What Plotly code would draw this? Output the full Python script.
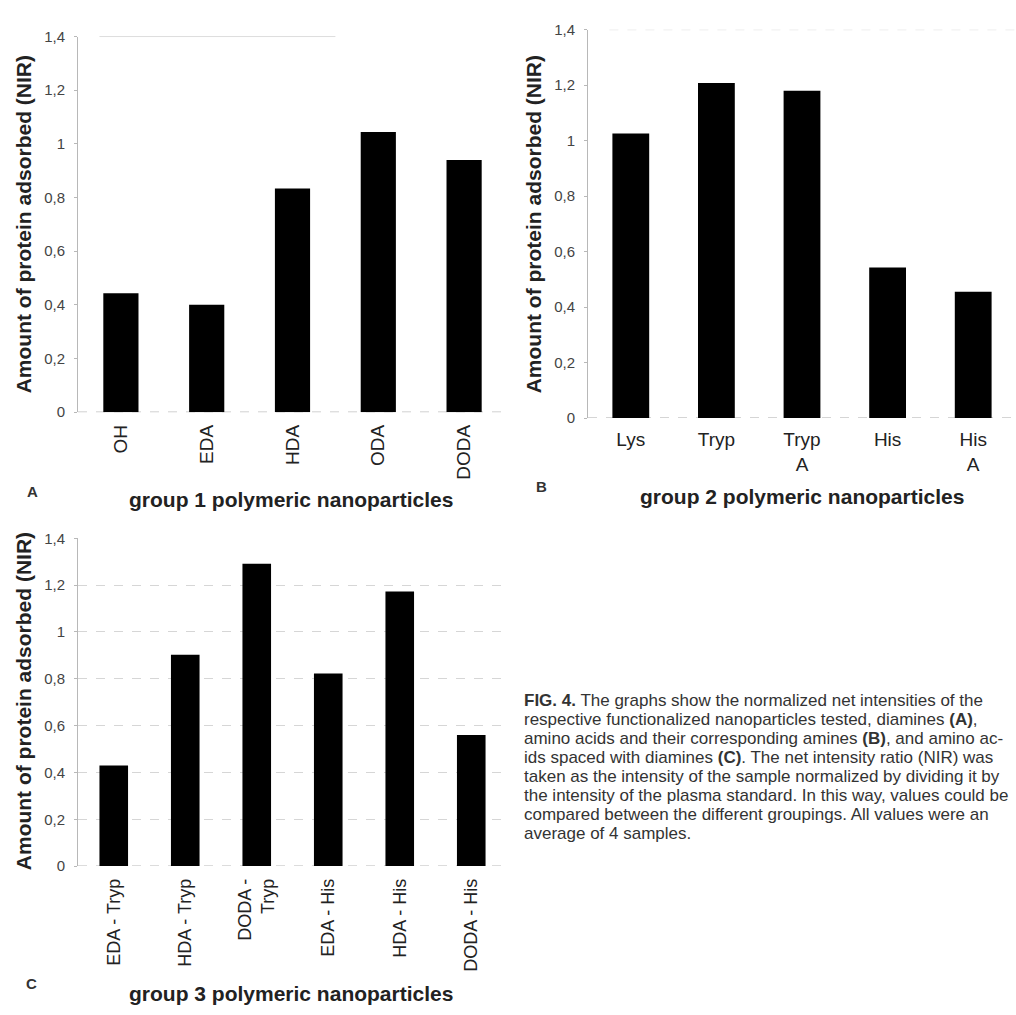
import plotly.graph_objects as go

# ---------------- data ----------------
cats_a = ["OH", "EDA", "HDA", "ODA", "DODA"]
vals_a = [0.443, 0.400, 0.834, 1.044, 0.940]

cats_b = ["Lys", "Tryp", "Tryp<br>A", "His", "His<br>A"]
vals_b = [1.026, 1.208, 1.180, 0.543, 0.455]

cats_c = ["EDA - Tryp", "HDA - Tryp", "DODA -<br>Tryp", "EDA - His", "HDA - His", "DODA - His"]
vals_c = [0.430, 0.903, 1.291, 0.822, 1.173, 0.560]

y_ticks = [0, 0.2, 0.4, 0.6, 0.8, 1.0, 1.2, 1.4]

y_title = "Amount of protein adsorbed (NIR)"
group_titles = ["group 1 polymeric nanoparticles",
                "group 2 polymeric nanoparticles",
                "group 3 polymeric nanoparticles"]
panel_letters = ["A", "B", "C"]

caption_lines = [
    "<b>FIG. 4.</b> The graphs show the normalized net intensities of the",
    "respective functionalized nanoparticles tested, diamines <b>(A)</b>,",
    "amino acids and their corresponding amines <b>(B)</b>, and amino ac-",
    "ids spaced with diamines <b>(C)</b>. The net intensity ratio (NIR) was",
    "taken as the intensity of the sample normalized by dividing it by",
    "the intensity of the plasma standard. In this way, values could be",
    "compared between the different groupings. All values were an",
    "average of 4 samples.",
]

# ---------------- layout helpers ----------------
W, H = 1016, 1015
FONT = "Liberation Sans, Arial, Helvetica, sans-serif"


def px(x):
    return x / W


def py(y):
    return 1 - y / H


fig = go.Figure()

fig.add_trace(go.Bar(x=cats_a, y=vals_a, width=0.41, marker=dict(color="black", line=dict(width=0)),
                     xaxis="x", yaxis="y", showlegend=False))
fig.add_trace(go.Bar(x=cats_b, y=vals_b, width=0.43, marker=dict(color="black", line=dict(width=0)),
                     xaxis="x2", yaxis="y2", showlegend=False))
fig.add_trace(go.Bar(x=cats_c, y=vals_c, width=0.40, marker=dict(color="black", line=dict(width=0)),
                     xaxis="x3", yaxis="y3", showlegend=False))


def yaxis_cfg(dom, anchor, grid=False):
    return dict(domain=dom, anchor=anchor, range=[0, 1.4], tickvals=y_ticks,
                showline=True, linecolor="#b8b8b8", linewidth=1,
                ticks="outside", ticklen=3, tickcolor="#b8b8b8",
                ticklabelstandoff=6,
                tickfont=dict(family=FONT, size=15, color="#444"),
                showgrid=grid, gridcolor="#d6d6d6", griddash="dash", gridwidth=1,
                zeroline=False)


def xaxis_cfg(dom, anchor, angle, size):
    return dict(domain=dom, anchor=anchor, type="category", tickangle=angle,
                showline=False, ticks="", showgrid=False, zeroline=False,
                ticklabelstandoff=8,
                tickfont=dict(family=FONT, size=size, color="#222"))


fig.update_layout(
    width=W, height=H,
    margin=dict(l=0, r=0, t=0, b=0),
    paper_bgcolor="white", plot_bgcolor="white",
    separators=",.",
    xaxis=xaxis_cfg([px(78), px(507)], "y", -90, 19),
    yaxis=yaxis_cfg([py(410), py(28)], "x"),
    xaxis2=xaxis_cfg([px(588), 1.0], "y2", 0, 19),
    yaxis2=yaxis_cfg([py(416), py(21)], "x2"),
    xaxis3=xaxis_cfg([px(78), px(507)], "y3", -90, 18),
    yaxis3=yaxis_cfg([py(871.7), py(538.3)], "x3", grid=True),
)

shapes = []
for xr, yr in [("x domain", "y"), ("x2 domain", "y2"), ("x3 domain", "y3")]:
    shapes.append(dict(type="line", xref=xr, yref=yr, x0=0, x1=1, y0=0, y1=0,
                       line=dict(color="#a8a8a8", width=1, dash="dash"), layer="below"))
shapes.append(dict(type="line", xref="x domain", yref="y", x0=0.05, x1=0.6, y0=1.4, y1=1.4,
                   line=dict(color="#bdbdbd", width=1), layer="below"))
shapes.append(dict(type="line", xref="x2 domain", yref="y2", x0=0.05, x1=1, y0=1.4, y1=1.4,
                   line=dict(color="#cfcfcf", width=1, dash="dash"), layer="below"))
fig.update_layout(shapes=shapes)

ann = []
# y titles
for xp, yp in [(23, 219), (533, 219), (23, 704)]:
    ann.append(dict(text="<b>" + y_title + "</b>", x=px(xp), y=py(yp), xref="paper", yref="paper",
                    textangle=-90, showarrow=False, xanchor="center", yanchor="middle",
                    font=dict(family=FONT, size=21, color="#222")))
# group titles
for t, (xp, yp) in zip(group_titles, [(291, 499), (802, 496), (291, 1001)]):
    ann.append(dict(text="<b>" + t + "</b>", x=px(xp), y=py(yp), xref="paper", yref="paper",
                    showarrow=False, xanchor="center", yanchor="middle",
                    font=dict(family=FONT, size=21, color="#222")))
# panel letters
for t, (xp, yp) in zip(panel_letters, [(32, 491), (541, 486), (31, 991)]):
    ann.append(dict(text="<b>" + t + "</b>", x=px(xp), y=py(yp), xref="paper", yref="paper",
                    showarrow=False, xanchor="center", yanchor="middle",
                    font=dict(family=FONT, size=15, color="#333")))
# caption
for i, line in enumerate(caption_lines):
    ann.append(dict(text=line, x=px(522), y=py(703 + i * 19.4), xref="paper", yref="paper",
                    showarrow=False, xanchor="left", yanchor="middle", align="left",
                    font=dict(family=FONT, size=17, color="#333")))
fig.update_layout(annotations=ann)

fig.write_html("out.html",
               config={"displayModeBar": False},
               post_script="document.body.style.margin='0';document.body.style.overflow='hidden';")
